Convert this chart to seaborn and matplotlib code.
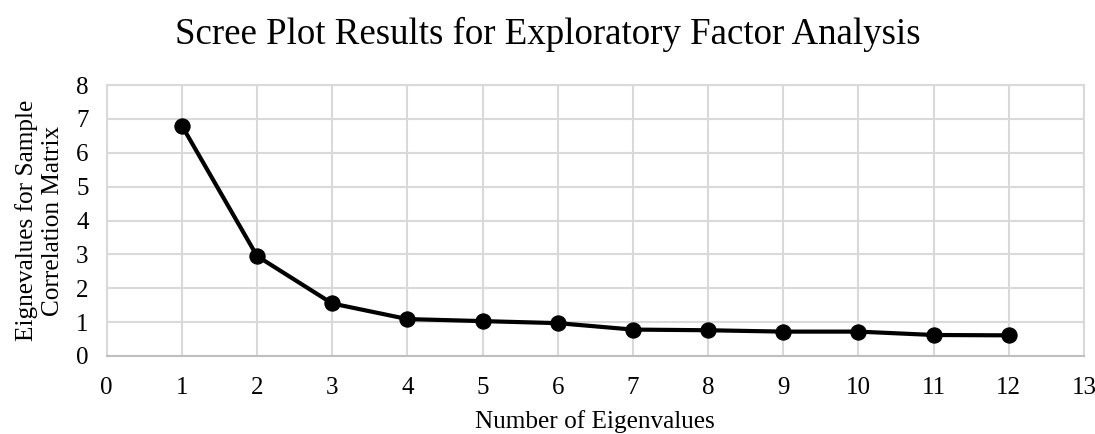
import matplotlib
matplotlib.use("Agg")
import matplotlib.pyplot as plt
import seaborn as sns
import pandas as pd

factor_number = [1, 2, 3, 4, 5, 6, 7, 8, 9, 10, 11, 12]
eigenvalues = [6.80, 2.95, 1.55, 1.09, 1.03, 0.97, 0.78, 0.76, 0.72, 0.72, 0.62, 0.61]
x_ticks = list(range(0, 14))
y_ticks = list(range(0, 9))

sns.set_theme(style="whitegrid")
plt.rcParams['font.family'] = ['Liberation Serif', 'DejaVu Serif']

df = pd.DataFrame({"n": factor_number, "ev": eigenvalues})

fig = plt.figure(figsize=(10.95, 4.34), dpi=100)
ax = fig.add_axes([106.7 / 1095, 1 - 356 / 434, (1084 - 106.7) / 1095, (356 - 85) / 434])

sns.lineplot(data=df, x="n", y="ev", ax=ax, color="black", linewidth=3,
             marker="o", markersize=11, markeredgecolor="black", markerfacecolor="black")

ax.set_xlim(0, 13)
ax.set_ylim(0, 8)
ax.set_xticks(x_ticks)
ax.set_yticks(y_ticks)
ax.tick_params(axis="both", length=0, labelsize=18, colors="black")
ax.tick_params(axis="x", pad=15)
ax.tick_params(axis="y", pad=13)
ax.grid(True, color="#d9d9d9", linewidth=1.5)
for s in ax.spines.values():
    s.set_visible(True)
    s.set_color("#d9d9d9")
    s.set_linewidth(1.5)
ax.spines["bottom"].set_color("#bfbfbf")

ax.set_xlabel("Number of Eigenvalues", fontsize=18.2, color="black", labelpad=8)
ax.set_ylabel("Eignevalues for Sample\nCorrelation Matrix", fontsize=18.2, color="black",
              labelpad=9, linespacing=1.2)
fig.text(0.5, 1 - 44 / 434, "Scree Plot Results for Exploratory Factor Analysis",
         ha="center", va="baseline", fontsize=26.6, color="black")

fig.savefig("out.png", dpi=100, facecolor="white")
